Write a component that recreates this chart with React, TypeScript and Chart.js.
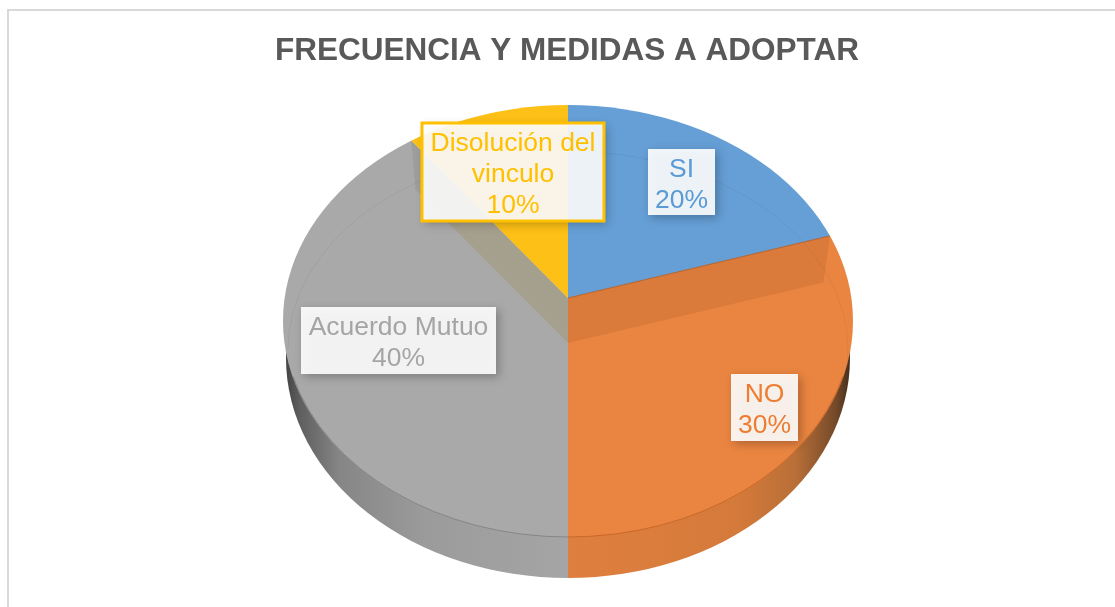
import React, { useEffect, useRef } from "react";
import { Chart, registerables } from "chart.js";

Chart.register(...registerables);

const categories = ["SI", "NO", "Acuerdo Mutuo", "Disolución del vinculo"];
const values = [20, 30, 40, 10];
const sliceColors = ["#659fd6", "#ea8541", "#a9a9a9", "#fdc016"];
const labelColors = ["#5b9bd5", "#ed7d31", "#a5a5a5", "#ffc000"];
const titleText = "FRECUENCIA Y MEDIDAS A ADOPTAR";

const FONT = '"Liberation Sans", Arial, sans-serif';
const CX = 568;
const RIM = { cy: 321, rx: 285, ry: 216 };
const BASE = { cy: 358, rx: 282, ry: 220 };
const INNER = { cy: 350, rx: 280, ry: 199 };
const APEX_UP = 298;
const APEX_LOW = 343;
const SX = 2;
const SY = 1.46;

const labelBoxes = [
  { x: 648, y: 149, w: 67, h: 66, lines: ["SI", "20%"] },
  { x: 731, y: 374, w: 67, h: 67, lines: ["NO", "30%"] },
  { x: 301, y: 307, w: 195, h: 67, lines: ["Acuerdo Mutuo", "40%"] },
  { x: 422, y: 123, w: 182, h: 98, lines: ["Disolución del", "vinculo", "10%"], border: true },
];

function rayLength(ay: number, dx: number, dy: number) {
  const a = (dx * dx) / (RIM.rx * RIM.rx) + (dy * dy) / (RIM.ry * RIM.ry);
  const oy = ay - RIM.cy;
  const b = (2 * oy * dy) / (RIM.ry * RIM.ry);
  const c = (oy * oy) / (RIM.ry * RIM.ry) - 1;
  return (-b + Math.sqrt(b * b - 4 * a * c)) / (2 * a);
}

const piePlugin = {
  id: "tiltedPie",
  beforeDraw(chart: any) {
    const { ctx } = chart;
    ctx.save();
    ctx.fillStyle = "#ffffff";
    ctx.fillRect(0, 0, chart.width, chart.height);
    ctx.strokeStyle = "#d9d9d9";
    ctx.lineWidth = 2;
    ctx.strokeRect(8, 10, 1200, 700);
    ctx.restore();
  },
  beforeDatasetDraw(chart: any) {
    const { ctx } = chart;
    const arcs = chart.getDatasetMeta(0).data;

    const drawArc = (i: number) => {
      const arc = arcs[i];
      ctx.save();
      ctx.translate(CX, APEX_UP);
      ctx.scale(SX, SY);
      ctx.translate(-arc.x, -arc.y);
      arc.draw(ctx);
      ctx.restore();
    };

    // side wall of the pie
    const wall = (x0: number, x1: number, stops: [number, string][]) => {
      ctx.save();
      ctx.beginPath();
      ctx.rect(x0, 300, x1 - x0, 300);
      ctx.clip();
      const g = ctx.createLinearGradient(RIM.rx * -1 + CX, 0, RIM.rx + CX, 0);
      stops.forEach(([p, c]) => g.addColorStop(p, c));
      ctx.fillStyle = g;
      ctx.beginPath();
      ctx.ellipse(CX, BASE.cy, BASE.rx, BASE.ry, 0, 0, Math.PI * 2);
      ctx.fill();
      ctx.restore();
    };
    wall(CX - 300, CX, [
      [0, "#3f3f3f"],
      [0.03, "#5f5f5f"],
      [0.1, "#868686"],
      [0.25, "#9b9b9b"],
      [0.5, "#a5a5a5"],
    ]);
    wall(CX, CX + 300, [
      [0.5, "#df7f3f"],
      [0.8, "#d47a3a"],
      [0.9, "#b96f37"],
      [0.97, "#74492a"],
      [1, "#3c2a18"],
    ]);

    ctx.save();
    ctx.beginPath();
    ctx.ellipse(CX, RIM.cy, RIM.rx, RIM.ry, 0, 0, Math.PI * 2);
    ctx.clip();

    drawArc(1);
    drawArc(2);

    // inner walls below the raised slices
    const innerWall = (angle: number, fill: (p: any, q: any) => any) => {
      const dx = Math.cos(angle) * SX;
      const dy = Math.sin(angle) * SY;
      const t = rayLength(APEX_UP, dx, dy);
      const p = { x: CX + dx * t, y: APEX_UP + dy * t };
      const q = { x: CX + dx * t * 0.975, y: APEX_LOW + dy * t * 0.975 };
      ctx.fillStyle = fill(p, q);
      ctx.beginPath();
      ctx.moveTo(CX, APEX_UP);
      ctx.lineTo(p.x, p.y);
      ctx.lineTo(q.x, q.y);
      ctx.lineTo(CX, APEX_LOW);
      ctx.closePath();
      ctx.fill();
      return p;
    };
    const pOrange = innerWall(arcs[1].startAngle, () => "#da7b3c");
    innerWall(arcs[3].startAngle, (p: any) => {
      const g = ctx.createLinearGradient(CX, APEX_LOW, p.x, p.y);
      g.addColorStop(0, "#a5a08d");
      g.addColorStop(0.6, "#a5a08d");
      g.addColorStop(0.75, "#a19f98");
      g.addColorStop(1, "#9d9d9d");
      return g;
    });

    drawArc(0);
    drawArc(3);

    // faint inner rim on the surface
    ctx.lineWidth = 1;
    ctx.strokeStyle = "rgba(60,60,60,0.07)";
    ctx.beginPath();
    ctx.ellipse(CX, INNER.cy, INNER.rx, INNER.ry, 0, Math.PI * 1.0, Math.PI * 2.03);
    ctx.stroke();

    // edge between raised blue slice and the wall
    ctx.strokeStyle = "#b8642a";
    ctx.beginPath();
    ctx.moveTo(CX, APEX_UP);
    ctx.lineTo(pOrange.x, pOrange.y);
    ctx.stroke();
    ctx.restore();

    // front rim
    ctx.save();
    ctx.lineWidth = 1;
    ctx.strokeStyle = "#c9682a";
    ctx.beginPath();
    ctx.ellipse(CX, RIM.cy, RIM.rx - 0.5, RIM.ry, 0, 0.26, Math.PI / 2);
    ctx.stroke();
    ctx.strokeStyle = "#868686";
    ctx.beginPath();
    ctx.ellipse(CX, RIM.cy, RIM.rx - 0.5, RIM.ry, 0, Math.PI / 2, Math.PI - 0.26);
    ctx.stroke();
    ctx.restore();

    return false; // the arcs were drawn above with their own transforms
  },
  afterDraw(chart: any) {
    const { ctx } = chart;
    labelBoxes.forEach((b, i) => {
      ctx.save();
      ctx.shadowColor = "rgba(0,0,0,0.28)";
      ctx.shadowBlur = 9;
      ctx.shadowOffsetX = 3;
      ctx.shadowOffsetY = 3;
      ctx.fillStyle = "rgba(255,255,255,0.9)";
      ctx.fillRect(b.x, b.y, b.w, b.h);
      ctx.restore();
      if (b.border) {
        ctx.strokeStyle = labelColors[i];
        ctx.lineWidth = 3;
        ctx.strokeRect(b.x, b.y, b.w, b.h);
      }
      ctx.fillStyle = labelColors[i];
      ctx.font = `26.5px ${FONT}`;
      ctx.textAlign = "center";
      ctx.textBaseline = "middle";
      const lh = 31;
      const top = b.y + b.h / 2 - ((b.lines.length - 1) * lh) / 2 + 3;
      b.lines.forEach((l, j) => ctx.fillText(l, b.x + b.w / 2, top + j * lh));
    });
  },
};

export default function App() {
  const ref = useRef<HTMLCanvasElement | null>(null);
  useEffect(() => {
    document.body.style.margin = "0";
    document.body.style.overflow = "hidden";
    const chart = new Chart(ref.current!, {
      type: "pie",
      data: {
        labels: categories,
        datasets: [
          {
            data: values,
            backgroundColor: sliceColors,
            borderWidth: 0,
            clip: false,
          } as any,
        ],
      },
      options: {
        responsive: false,
        animation: false,
        layout: { padding: { left: 19, top: 0, right: 0, bottom: 20 } },
        plugins: {
          legend: { display: false },
          tooltip: { enabled: false },
          title: {
            display: true,
            text: titleText,
            color: "#595959",
            font: { family: FONT, size: 31.5, weight: "bold" },
            padding: { top: 32, bottom: 20 },
          },
        },
      },
      plugins: [piePlugin],
    });
    return () => chart.destroy();
  }, []);
  return (
    <canvas
      ref={ref}
      width={1115}
      height={607}
      style={{ position: "fixed", left: 0, top: 0, display: "block", width: 1115, height: 607 }}
    />
  );
}
